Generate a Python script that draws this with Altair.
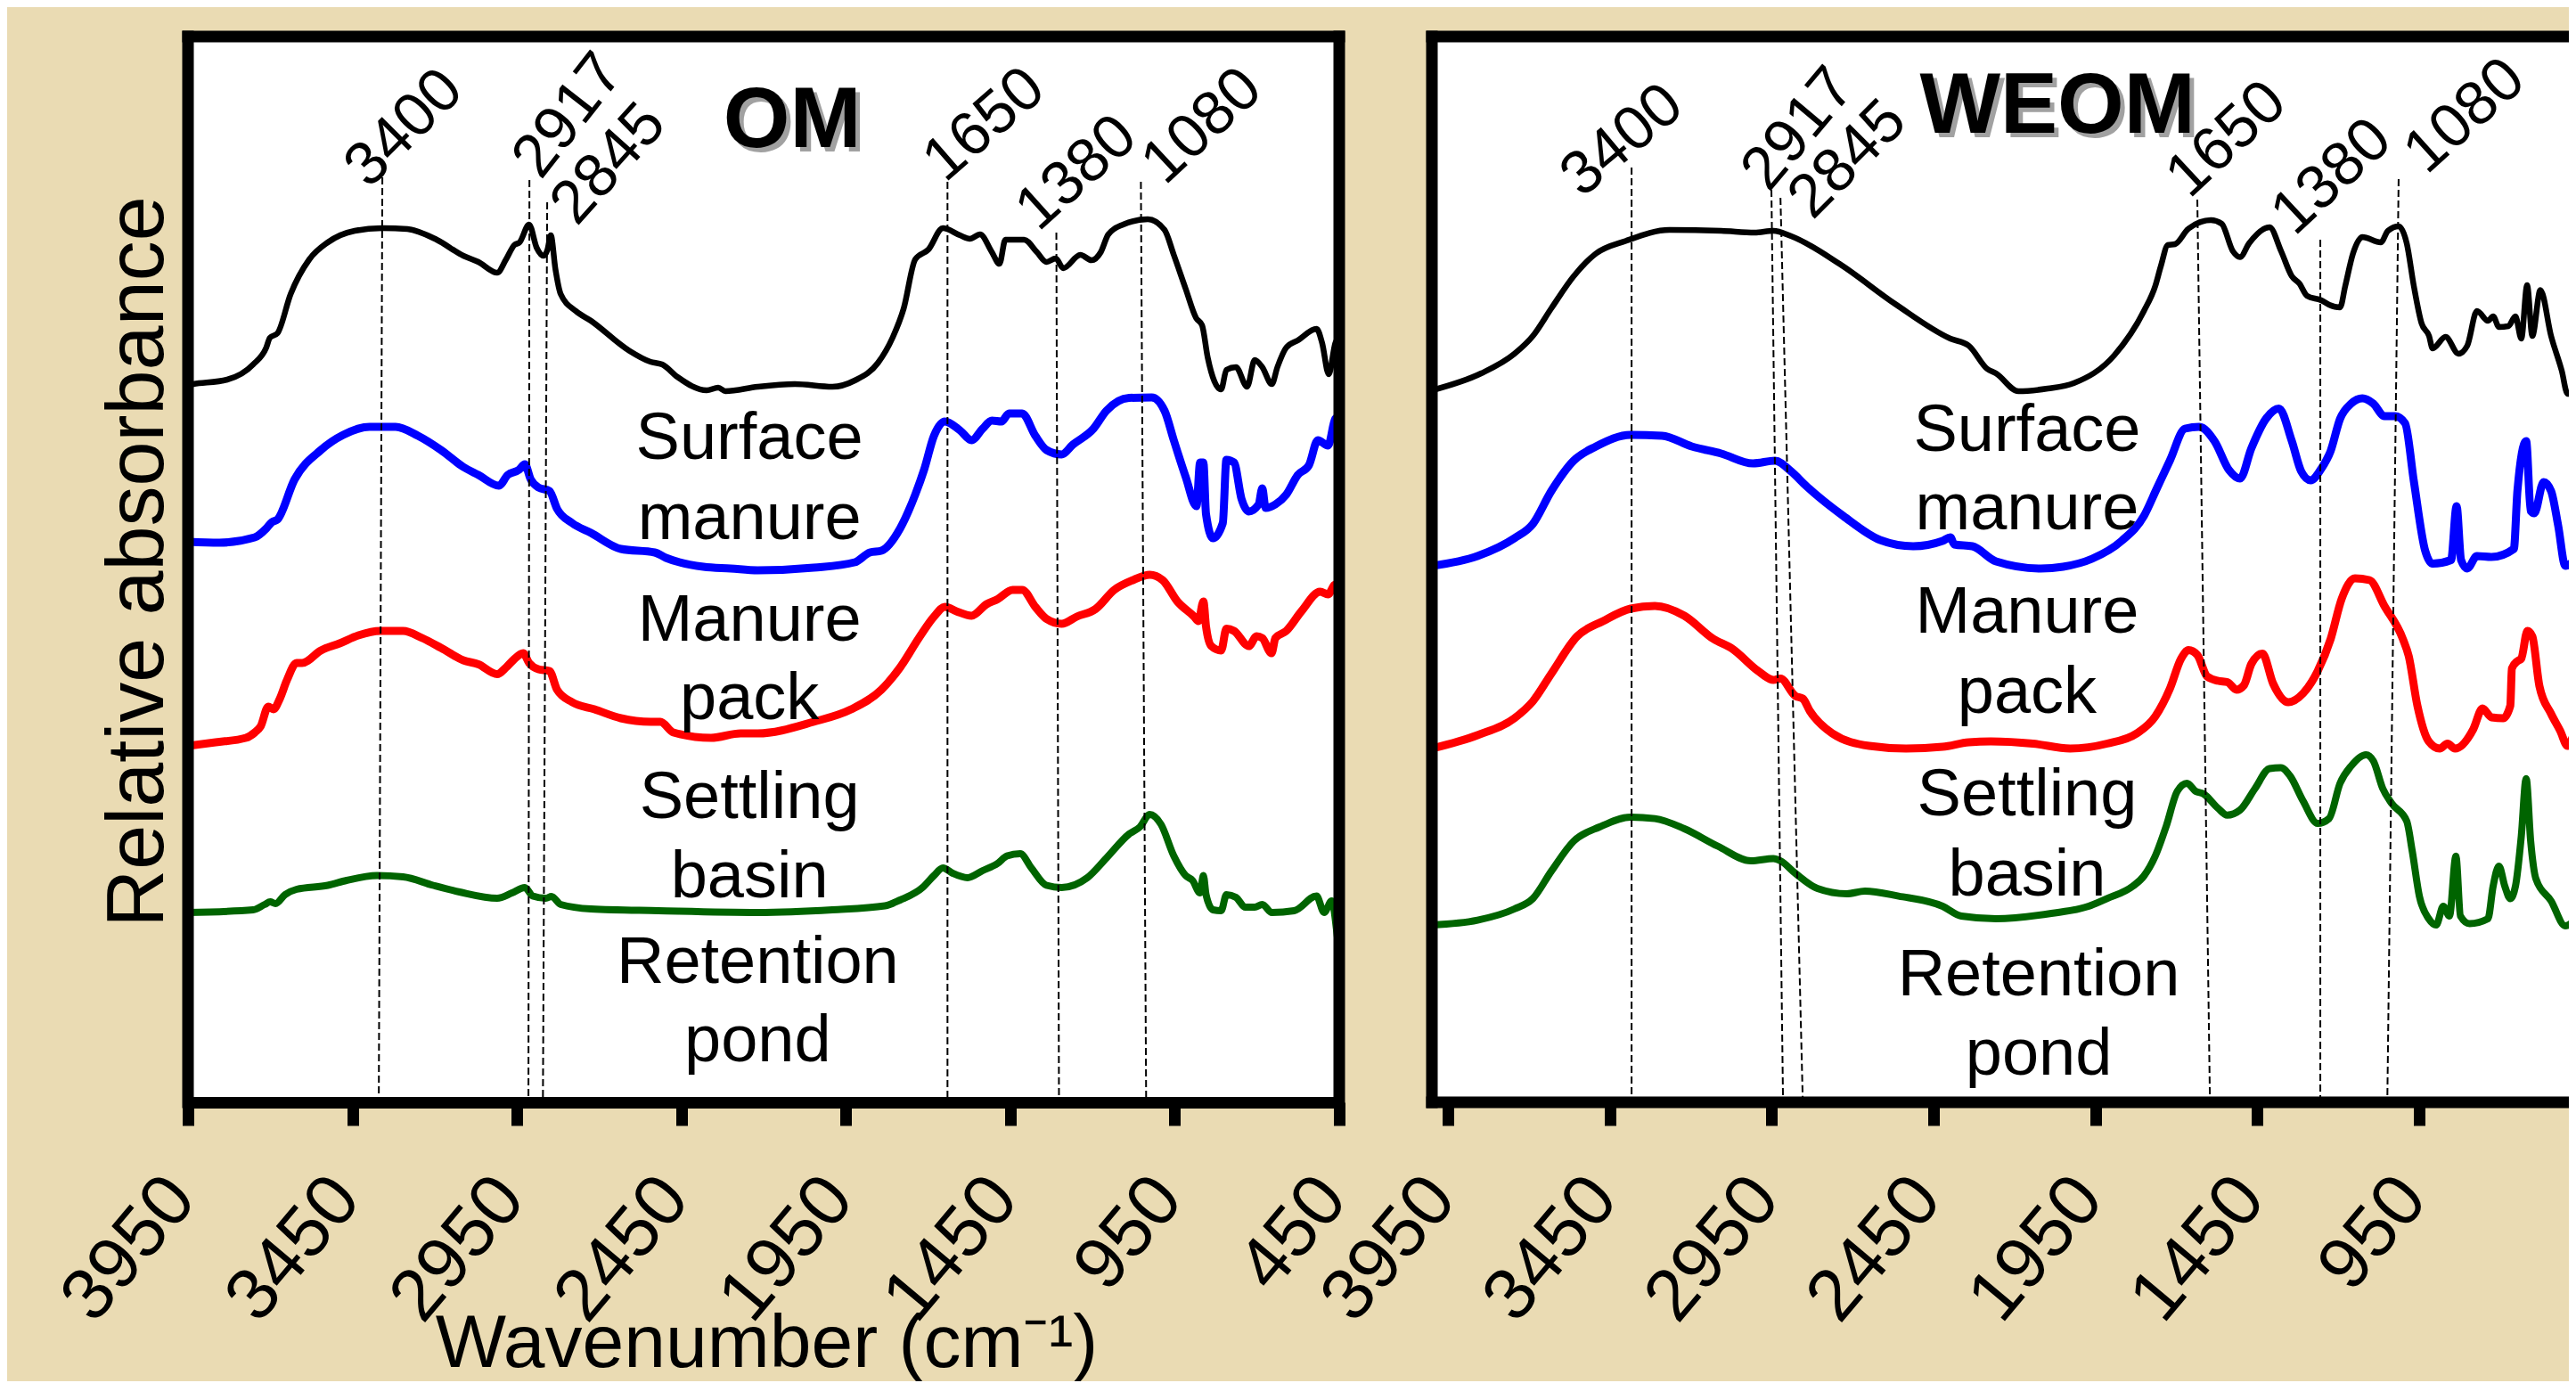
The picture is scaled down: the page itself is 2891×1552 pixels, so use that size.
import altair as alt
import pandas as pd

FONT = "Liberation Sans"
BG = "#EADBB3"

SERIES = ["Surface manure", "Manure pack", "Settling basin", "Retention pond"]
COLORS = ["#000000", "#0000FF", "#FF0000", "#006400"]
WIDTHS = [6.5, 9, 9, 8]

# ---------------- OM panel spectra (wavenumber, relative absorbance) ----------------
om_surface = [(3950, 8.05), (3934, 8.06), (3831, 8.11), (3752, 8.28), (3712, 8.47), (3701, 8.58), (3678, 8.63),
              (3638, 9.07), (3581, 9.46), (3525, 9.65), (3443, 9.78), (3359, 9.81), (3283, 9.80), (3194, 9.68),
              (3113, 9.50), (3067, 9.43), (3010, 9.31), (2983, 9.46), (2958, 9.62), (2942, 9.65), (2913, 9.85),
              (2890, 9.59), (2869, 9.50), (2857, 9.57), (2847, 9.73), (2833, 9.35), (2817, 9.07), (2771, 8.88),
              (2725, 8.77), (2611, 8.44), (2544, 8.31), (2508, 8.28), (2462, 8.14), (2373, 7.99), (2338, 8.02),
              (2316, 7.98), (2218, 8.03), (2105, 8.06), (1991, 8.03), (1923, 8.10), (1852, 8.30), (1808, 8.58),
              (1774, 8.91), (1739, 9.46), (1699, 9.57), (1655, 9.81), (1603, 9.73), (1573, 9.69), (1542, 9.74),
              (1506, 9.54), (1483, 9.41), (1465, 9.68), (1408, 9.68), (1369, 9.54), (1340, 9.43), (1312, 9.47),
              (1289, 9.36), (1237, 9.51), (1203, 9.45), (1175, 9.54), (1152, 9.74), (1107, 9.85), (1032, 9.91),
              (981, 9.79), (953, 9.51), (917, 9.13), (885, 8.80), (867, 8.72), (850, 8.36), (809, 8.00),
              (793, 8.22), (764, 8.25), (730, 8.03), (707, 8.33), (684, 8.25), (655, 8.06), (638, 8.25),
              (611, 8.47), (576, 8.55), (519, 8.68), (502, 8.52), (482, 8.17), (462, 8.52), (450, 8.60)]
om_pack = [(3950, 6.29), (3855, 6.28), (3747, 6.34), (3712, 6.44), (3695, 6.51), (3678, 6.54), (3626, 6.99),
           (3546, 7.32), (3478, 7.49), (3398, 7.58), (3319, 7.58), (3251, 7.48), (3181, 7.32), (3113, 7.13),
           (3067, 7.04), (3005, 6.92), (2978, 7.04), (2943, 7.10), (2926, 7.16), (2908, 6.99), (2885, 6.90),
           (2851, 6.86), (2828, 6.66), (2782, 6.50), (2725, 6.39), (2634, 6.21), (2531, 6.17), (2497, 6.11),
           (2383, 6.01), (2300, 5.99), (2218, 5.97), (2048, 6.00), (1923, 6.06), (1877, 6.17), (1842, 6.19),
           (1785, 6.44), (1739, 6.82), (1712, 7.10), (1682, 7.48), (1649, 7.64), (1603, 7.54), (1568, 7.43),
           (1534, 7.56), (1506, 7.65), (1477, 7.64), (1454, 7.73), (1414, 7.73), (1374, 7.48), (1340, 7.32),
           (1294, 7.27), (1260, 7.38), (1197, 7.56), (1158, 7.76), (1089, 7.905), (1020, 7.91), (981, 7.76),
           (953, 7.43), (917, 7.02), (884, 6.69), (873, 7.18), (863, 7.18), (855, 6.60), (834, 6.33),
           (804, 6.50), (793, 7.21), (770, 7.18), (747, 6.77), (725, 6.63), (695, 6.71), (684, 6.89),
           (674, 6.67), (644, 6.71), (611, 6.82), (576, 7.04), (542, 7.15), (515, 7.43), (484, 7.37),
           (462, 7.67), (450, 7.70)]
om_basin = [(3950, 4.00), (3866, 4.04), (3774, 4.09), (3747, 4.15), (3729, 4.22), (3706, 4.44), (3690, 4.41),
            (3672, 4.52), (3649, 4.74), (3620, 4.93), (3603, 4.93), (3546, 5.07), (3489, 5.15), (3432, 5.24),
            (3365, 5.29), (3296, 5.29), (3238, 5.21), (3181, 5.10), (3113, 4.96), (3067, 4.915), (3010, 4.805),
            (2983, 4.88), (2959, 4.97), (2931, 5.04), (2913, 4.93), (2885, 4.86), (2851, 4.84), (2828, 4.63),
            (2782, 4.49), (2714, 4.41), (2634, 4.31), (2543, 4.27), (2514, 4.27), (2474, 4.15), (2360, 4.09),
            (2270, 4.14), (2218, 4.14), (2048, 4.27), (1934, 4.41), (1842, 4.63), (1785, 4.88), (1728, 5.21),
            (1682, 5.45), (1649, 5.56), (1614, 5.51), (1568, 5.46), (1522, 5.59), (1489, 5.645), (1443, 5.75),
            (1414, 5.75), (1374, 5.56), (1340, 5.425), (1294, 5.37), (1248, 5.45), (1191, 5.535), (1134, 5.75),
            (1077, 5.86), (1026, 5.92), (987, 5.86), (942, 5.62), (891, 5.45), (878, 5.40), (863, 5.62),
            (855, 5.34), (839, 5.12), (809, 5.07), (793, 5.315), (770, 5.29), (725, 5.12), (701, 5.23),
            (684, 5.21), (656, 5.04), (644, 5.21), (611, 5.29), (565, 5.51), (508, 5.73), (484, 5.70),
            (462, 5.81), (450, 5.75)]
om_pond = [(3950, 2.13), (3752, 2.16), (3717, 2.22), (3700, 2.25), (3684, 2.23), (3655, 2.33), (3620, 2.39),
           (3525, 2.435), (3468, 2.49), (3375, 2.545), (3296, 2.53), (3205, 2.435), (3124, 2.36), (3010, 2.29),
           (2965, 2.35), (2926, 2.41), (2902, 2.315), (2862, 2.29), (2845, 2.31), (2817, 2.22), (2725, 2.17),
           (2520, 2.15), (2218, 2.13), (1991, 2.16), (1831, 2.205), (1785, 2.27), (1717, 2.41), (1682, 2.545),
           (1655, 2.63), (1625, 2.57), (1580, 2.52), (1534, 2.60), (1489, 2.68), (1460, 2.765), (1420, 2.79),
           (1386, 2.63), (1340, 2.435), (1294, 2.41), (1216, 2.52), (1158, 2.74), (1089, 3.01), (1056, 3.09),
           (1026, 3.23), (992, 3.12), (953, 2.765), (917, 2.545), (896, 2.49), (873, 2.35), (863, 2.545),
           (855, 2.33), (834, 2.16), (809, 2.15), (793, 2.33), (764, 2.30), (736, 2.19), (707, 2.19),
           (684, 2.22), (655, 2.13), (587, 2.15), (519, 2.315), (496, 2.13), (473, 2.26), (453, 1.78),
           (450, 1.70)]

# ---------------- WEOM panel spectra ----------------
weom_surface = [(4000, 7.99), (3848, 8.18), (3745, 8.40), (3688, 8.60), (3631, 8.91), (3562, 9.27), (3493, 9.525),
                (3402, 9.665), (3266, 9.79), (3106, 9.78), (3003, 9.76), (2945, 9.78), (2890, 9.72), (2741, 9.41),
                (2569, 8.96), (2398, 8.57), (2341, 8.49), (2284, 8.23), (2257, 8.18), (2188, 7.98), (2097, 8.01),
                (2017, 8.07), (1891, 8.385), (1800, 8.88), (1765, 9.16), (1748, 9.38), (1726, 9.62), (1704, 9.63),
                (1662, 9.805), (1593, 9.90), (1560, 9.86), (1525, 9.55), (1503, 9.485), (1475, 9.64), (1412, 9.82),
                (1376, 9.55), (1343, 9.27), (1320, 9.19), (1296, 9.05), (1252, 9.00), (1228, 8.95), (1194, 8.92),
                (1178, 9.16), (1154, 9.525), (1125, 9.71), (1068, 9.65), (1046, 9.78), (1013, 9.83), (988, 9.64),
                (966, 9.16), (942, 8.74), (919, 8.60), (908, 8.46), (868, 8.59), (828, 8.40), (801, 8.49),
                (771, 8.88), (737, 8.77), (721, 8.82), (703, 8.70), (674, 8.71), (652, 8.82), (634, 8.57),
                (616, 9.17), (600, 8.60), (575, 9.115), (542, 8.60), (509, 8.21), (491, 7.95), (465, 7.98)]
weom_pack = [(4000, 6.02), (3859, 6.13), (3745, 6.33), (3688, 6.49), (3631, 6.86), (3562, 7.20), (3493, 7.36),
             (3386, 7.49), (3289, 7.48), (3197, 7.36), (3106, 7.28), (3008, 7.17), (2940, 7.20), (2890, 7.08),
             (2843, 6.915), (2729, 6.58), (2615, 6.31), (2513, 6.24), (2422, 6.30), (2398, 6.34), (2386, 6.26),
             (2330, 6.24), (2257, 6.07), (2119, 5.99), (2050, 6.01), (1960, 6.10), (1869, 6.30), (1800, 6.58),
             (1760, 6.89), (1720, 7.20), (1673, 7.56), (1629, 7.58), (1582, 7.42), (1537, 7.095), (1503, 7.00),
             (1468, 7.34), (1423, 7.67), (1383, 7.785), (1343, 7.42), (1314, 7.08), (1285, 6.98), (1252, 7.11),
             (1223, 7.31), (1194, 7.67), (1160, 7.84), (1125, 7.90), (1091, 7.84), (1057, 7.70), (1024, 7.70),
             (993, 7.62), (966, 6.97), (931, 6.19), (908, 6.045), (851, 6.085), (834, 6.69), (820, 6.085),
             (801, 5.99), (771, 6.13), (726, 6.12), (657, 6.21), (646, 6.86), (619, 7.42), (605, 6.635),
             (594, 6.61), (565, 6.96), (542, 6.86), (520, 6.47), (498, 6.02), (465, 6.10)]
weom_basin = [(4000, 3.97), (3859, 4.12), (3745, 4.31), (3688, 4.50), (3631, 4.81), (3551, 5.23), (3471, 5.40),
              (3386, 5.54), (3311, 5.57), (3220, 5.46), (3130, 5.20), (3072, 5.09), (2992, 4.84), (2945, 4.74),
              (2923, 4.755), (2877, 4.56), (2854, 4.53), (2832, 4.39), (2763, 4.14), (2649, 4.00), (2535, 3.97),
              (2422, 3.99), (2341, 4.04), (2273, 4.05), (2143, 4.025), (2028, 3.97), (1914, 4.025), (1822, 4.14),
              (1765, 4.33), (1720, 4.64), (1685, 4.98), (1662, 5.075), (1635, 5.02), (1605, 4.78), (1571, 4.73),
              (1542, 4.715), (1514, 4.63), (1491, 4.68), (1468, 4.92), (1434, 5.035), (1401, 4.70), (1354, 4.49),
              (1308, 4.59), (1263, 4.84), (1223, 5.20), (1189, 5.65), (1148, 5.88), (1103, 5.86), (1057, 5.57),
              (1000, 5.20), (982, 5.01), (955, 4.45), (920, 4.05), (886, 3.97), (862, 4.025), (839, 3.97),
              (782, 4.19), (754, 4.42), (726, 4.32), (690, 4.31), (668, 4.45), (663, 4.87), (646, 4.95),
              (634, 4.98), (615, 5.29), (600, 5.23), (578, 4.67), (542, 4.36), (514, 4.17), (491, 4.00),
              (474, 4.11), (465, 4.20)]
weom_pond = [(4000, 1.99), (3859, 2.044), (3745, 2.17), (3688, 2.286), (3631, 2.594), (3562, 2.93), (3482, 3.09),
             (3386, 3.20), (3311, 3.184), (3220, 3.07), (3117, 2.875), (3014, 2.71), (2945, 2.735), (2923, 2.71),
             (2877, 2.57), (2809, 2.40), (2718, 2.34), (2662, 2.37), (2558, 2.314), (2422, 2.20), (2364, 2.09),
             (2257, 2.06), (2086, 2.12), (1971, 2.20), (1914, 2.286), (1834, 2.426), (1800, 2.54), (1765, 2.763),
             (1731, 3.10), (1697, 3.49), (1667, 3.58), (1640, 3.49), (1617, 3.464), (1571, 3.30), (1543, 3.223),
             (1503, 3.28), (1457, 3.52), (1412, 3.745), (1377, 3.756), (1348, 3.66), (1308, 3.38), (1263, 3.13),
             (1228, 3.184), (1194, 3.58), (1160, 3.773), (1114, 3.90), (1091, 3.83), (1062, 3.52), (1034, 3.352),
             (988, 3.155), (971, 2.82), (949, 2.314), (920, 2.06), (897, 1.99), (875, 2.20), (856, 2.09),
             (836, 2.763), (822, 2.09), (794, 2.005), (737, 2.06), (721, 2.426), (703, 2.65), (685, 2.426),
             (668, 2.286), (652, 2.426), (634, 2.987), (619, 3.632), (605, 2.93), (589, 2.51), (542, 2.26),
             (498, 1.98), (465, 2.06)]

# ---------------- annotations ----------------
peak_text = ["3400", "2917", "2845", "1650", "1380", "1080"]
om_peak_wn = [3400, 2877, 2768, 1649, 1365, 980]
om_peak_v = [10.24, 10.34, 9.82, 10.31, 9.76, 10.28]
om_peak_angle = [315, 308, 312, 319, 318, 317]
weom_peak_wn = [3537, 2959, 2824, 1660, 1335, 927]
weom_peak_v = [10.14, 10.20, 9.89, 10.13, 9.71, 10.40]
weom_peak_angle = [320, 310, 315, 317, 317, 318]

om_vline_top = [3359, 2912, 2858, 1641, 1310, 1053]
om_vline_bot = [3370, 2915, 2871, 1641, 1302, 1037]
om_vline_v = [10.50, 10.35, 10.10, 10.33, 9.76, 10.33]
weom_vline_top = [3383, 2951, 2923, 1635, 1255, 1013]
weom_vline_bot = [3383, 2915, 2854, 1596, 1255, 1048]
weom_vline_v = [10.49, 10.24, 10.15, 10.13, 9.68, 10.36]

sample_lines = ["Surface", "manure", "Manure", "pack", "Settling", "basin", "Retention", "pond"]
om_sample_wn = [2243, 2243, 2243, 2243, 2243, 2243, 2218, 2218]
om_sample_v = [7.22, 6.32, 5.18, 4.30, 3.19, 2.30, 1.34, 0.46]
weom_sample_wn = [2161, 2161, 2161, 2161, 2161, 2161, 2125, 2125]
weom_sample_v = [7.31, 6.43, 5.27, 4.37, 3.22, 2.32, 1.20, 0.31]

panel_titles = ["OM", "WEOM"]
title_wn = [2113, 2067]
title_v = [10.72, 10.88]

tick_vals = [3950, 3450, 2950, 2450, 1950, 1450, 950, 450]

W_L, W_R, H = 1292, 1276, 1196
YMAX = 11.96
FW = 6.5  # half thickness of the frame


def curves_df(curves):
    rows = []
    for s, (name, pts) in enumerate(zip(SERIES, curves)):
        for i, (w, v) in enumerate(pts):
            rows.append({"wn": w, "v": v, "series": name, "i": i, "sw": WIDTHS[s]})
    return pd.DataFrame(rows)


def build_panel(curves, pk_wn, pk_v, pk_ang, vl_top, vl_bot, vl_v, sm_wn, sm_v, t_idx,
                xdom, width, ticks, left):
    xs = alt.Scale(domain=xdom, reverse=True, nice=False, zero=False)
    ys = alt.Scale(domain=[0, YMAX], nice=False, zero=False)

    xaxis = alt.Axis(values=ticks, format="d", grid=False,
                     labelFont=FONT, labelFontSize=82, labelColor="black", labelAngle=-50,
                     labelAlign="right", labelBaseline="middle", labelPadding=68, labelOffset=-8,
                     labelOverlap=False, labelFlush=False, labelLimit=0,
                     ticks=True, tickColor="black", tickWidth=13, tickSize=26,
                     domain=left, domainColor="black", domainWidth=13, zindex=1,
                     title="Wavenumber (cm⁻¹)" if left else " ",
                     titleFont=FONT, titleFontSize=84, titleFontWeight="normal", titleColor="black",
                     titleX=649, titleY=296, titleAlign="center", titleBaseline="alphabetic", titleAngle=0)
    if left:
        yaxis = alt.Axis(title="Relative absorbance", labels=False, ticks=False, domain=False, grid=False,
                         titleFont=FONT, titleFontSize=90, titleFontWeight="normal", titleColor="black",
                         titleAngle=270, titleX=-29, titleY=589, titleAlign="center",
                         titleBaseline="alphabetic")
    else:
        yaxis = None

    def X(field):
        return alt.X(field, type="quantitative", scale=xs, axis=xaxis)

    def Y(field):
        return alt.Y(field, type="quantitative", scale=ys, axis=yaxis)

    df = curves_df(curves)
    lines = alt.Chart(df).mark_line(clip=True, strokeJoin="round", strokeCap="round",
                                    interpolate="monotone").encode(
        x=X("wn"), y=Y("v"),
        color=alt.Color("series:N", scale=alt.Scale(domain=SERIES, range=COLORS), legend=None),
        strokeWidth=alt.StrokeWidth("sw:Q", scale=None, legend=None),
        detail="series:N",
        order="i:Q",
    )

    vdf = pd.DataFrame({"wn": vl_top, "wn2": vl_bot, "v": vl_v, "v2": [0] * len(vl_v)})
    vlines = alt.Chart(vdf).mark_rule(color="black", strokeWidth=2, strokeDash=[8, 4]).encode(
        x=X("wn"), x2="wn2:Q", y=Y("v"), y2="v2:Q")

    pdf = pd.DataFrame({"wn": pk_wn, "v": pk_v, "t": peak_text, "a": pk_ang})
    peaks = alt.Chart(pdf).mark_text(font=FONT, fontSize=69, align="left", baseline="alphabetic",
                                     color="black").encode(
        x=X("wn"), y=Y("v"), text="t:N", angle=alt.Angle("a:Q", scale=None))

    sdf = pd.DataFrame({"wn": sm_wn, "v": sm_v, "t": sample_lines})
    samples = alt.Chart(sdf).mark_text(font=FONT, fontSize=74, align="center", baseline="alphabetic",
                                       color="black").encode(x=X("wn"), y=Y("v"), text="t:N")

    tdf = pd.DataFrame({"wn": [title_wn[t_idx]], "v": [title_v[t_idx]], "t": [panel_titles[t_idx]]})
    tshadow = alt.Chart(tdf).mark_text(font=FONT, fontSize=96, fontWeight="bold", align="center",
                                       baseline="alphabetic", color="#8a8a8a", opacity=0.8, dx=5, dy=5).encode(
        x=X("wn"), y=Y("v"), text="t:N")
    ttext = alt.Chart(tdf).mark_text(font=FONT, fontSize=96, fontWeight="bold", align="center",
                                     baseline="alphabetic", color="black").encode(
        x=X("wn"), y=Y("v"), text="t:N")

    one = pd.DataFrame({"k": [0]})

    def bar(x1, x2, y1, y2):
        return alt.Chart(one).mark_rect(color="black", strokeWidth=0).encode(
            x=alt.value(x1), x2=alt.value(x2), y=alt.value(y1), y2=alt.value(y2))

    layers = [lines, vlines, peaks, samples, tshadow, ttext]
    if left:
        layers += [bar(-FW, width + FW, -FW, FW),          # top
                   bar(-FW, FW, -FW, H + FW),              # left
                   bar(width - FW, width + FW, -FW, H + FW),  # right
                   alt.Chart(one).mark_rule(opacity=0).encode(x=alt.value(-203), y=alt.value(-33),
                                                             y2=alt.value(-30))]
    else:
        layers += [bar(-FW, width, -FW, FW),               # top
                   bar(-FW, FW, -FW, H + FW),              # left
                   bar(-FW, width, H - FW, H + FW)]        # bottom
    return alt.layer(*layers).properties(width=width, height=H)


left = build_panel([om_surface, om_pack, om_basin, om_pond], om_peak_wn, om_peak_v, om_peak_angle,
                   om_vline_top, om_vline_bot, om_vline_v, om_sample_wn, om_sample_v, 0,
                   [450, 3950], W_L, tick_vals, True)
right = build_panel([weom_surface, weom_pack, weom_basin, weom_pond], weom_peak_wn, weom_peak_v,
                    weom_peak_angle, weom_vline_top, weom_vline_bot, weom_vline_v, weom_sample_wn,
                    weom_sample_v, 1, [487, 4000], W_R, tick_vals[:-1], False)

chart = alt.hconcat(left, right, spacing=104, bounds="flush").properties(
    padding=0, background=BG
).configure_view(fill="white", strokeWidth=0)

chart.save("out.html", embed_options={"renderer": "svg", "actions": False})
